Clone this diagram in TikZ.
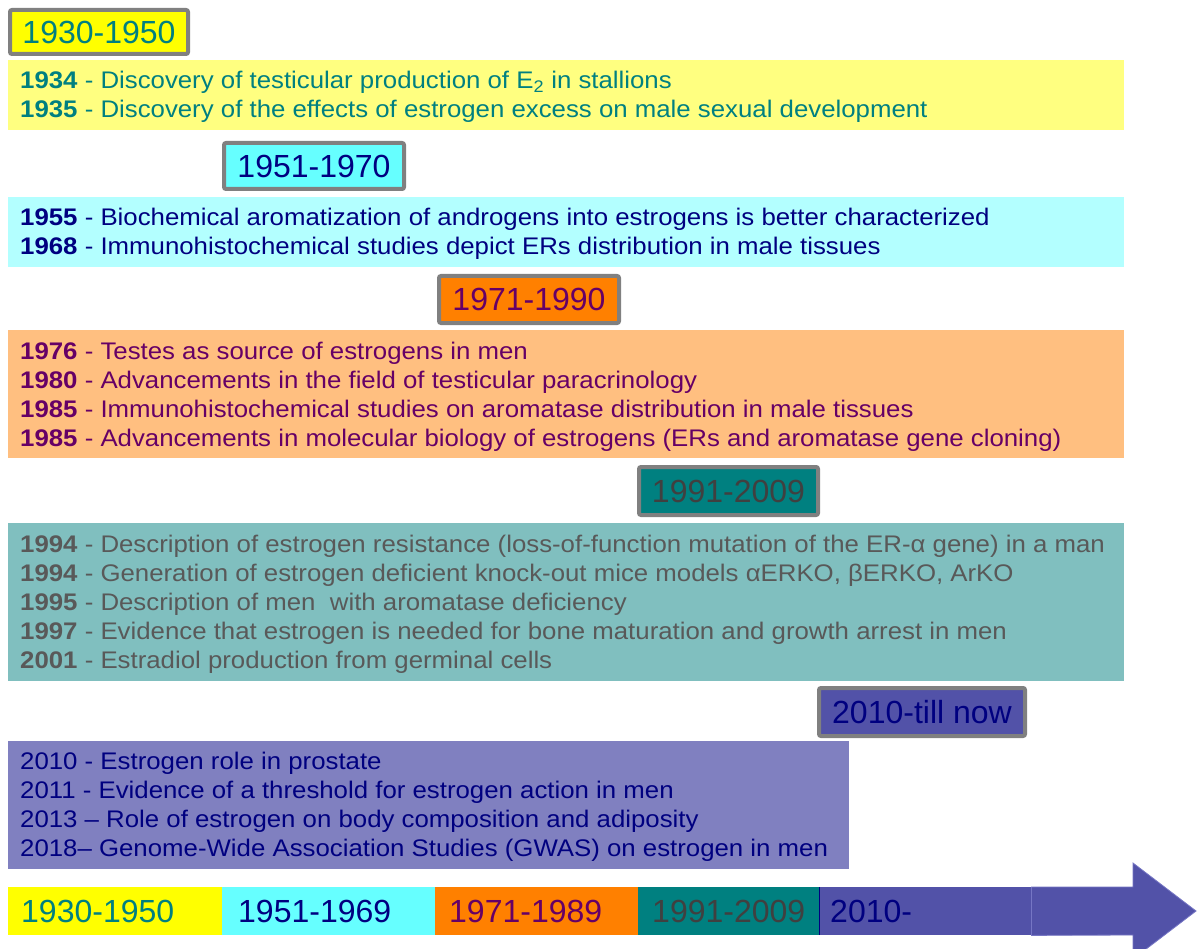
\documentclass[tikz,border=0pt]{standalone}
\usepackage{fontspec}
\setmainfont{Liberation Sans}
\newfontfamily\bandfont[FakeStretch=1.075]{Liberation Sans}
\definecolor{hdrgray}{HTML}{808080}
\definecolor{cA}{HTML}{FFFF00}
\definecolor{cB}{HTML}{66FFFF}
\definecolor{cC}{HTML}{FF8000}
\definecolor{cD}{HTML}{008080}
\definecolor{cE}{HTML}{5252A8}
\definecolor{bA}{HTML}{FFFF80}
\definecolor{bB}{HTML}{B3FFFF}
\definecolor{bC}{HTML}{FFBF80}
\definecolor{bD}{HTML}{80BFBF}
\definecolor{bE}{HTML}{8080C0}
\definecolor{tA}{HTML}{008080}
\definecolor{tB}{HTML}{000080}
\definecolor{tC}{HTML}{660066}
\definecolor{tD}{HTML}{595959}
\definecolor{tDh}{HTML}{404040}
\definecolor{arrowedge}{HTML}{7676C4}
\begin{document}
\begin{tikzpicture}[x=1pt,y=-1pt,
  hdr/.style={draw=hdrgray, line width=4pt, rounded corners=2pt, inner sep=0pt,
    font=\fontsize{32}{32}\selectfont},
  band/.style={inner sep=0pt, anchor=north west},
  line/.style={inner sep=0pt, anchor=base west, font=\bandfont\fontsize{24}{29}\selectfont},
  seg/.style={inner sep=0pt, anchor=north west, minimum height=48pt},
  segtext/.style={inner sep=0pt, anchor=base west, font=\fontsize{32}{32}\selectfont}]
\useasboundingbox (0,0) rectangle (1198,949);
\fill[white] (0,0) rectangle (1198,949);

% ---- 1930-1950
\node[hdr, fill=cA, text=tA, minimum width=178pt, minimum height=44pt] (h1) at (99,32) {1930-1950};
\node[band, fill=bA, minimum width=1116pt, minimum height=70pt] (b1) at (8,60) {};
\node[line, text=tA] (l11) at (20,89) {\textbf{1934} - Discovery of testicular production of E\textsubscript{2} in stallions};
\node[line, text=tA] (l12) at (20,118) {\textbf{1935} - Discovery of the effects of estrogen excess on male sexual development};

% ---- 1951-1970
\node[hdr, fill=cB, text=tB, minimum width=180pt, minimum height=46pt] (h2) at (314,166) {1951-1970};
\node[band, fill=bB, minimum width=1116pt, minimum height=70pt] (b2) at (8,197) {};
\node[line, text=tB] (l21) at (20,226) {\textbf{1955} - Biochemical aromatization of androgens into estrogens is better characterized};
\node[line, text=tB] (l22) at (20,255) {\textbf{1968} - Immunohistochemical studies depict ERs distribution in male tissues};

% ---- 1971-1990
\node[hdr, fill=cC, text=tC, minimum width=180pt, minimum height=47pt] (h3) at (529,299.5) {1971-1990};
\node[band, fill=bC, minimum width=1116pt, minimum height=128pt] (b3) at (8,330) {};
\node[line, text=tC] (l31) at (20,359) {\textbf{1976} - Testes as source of estrogens in men};
\node[line, text=tC] (l32) at (20,388) {\textbf{1980} - Advancements in the field of testicular paracrinology};
\node[line, text=tC] (l33) at (20,417) {\textbf{1985} - Immunohistochemical studies on aromatase distribution in male tissues};
\node[line, text=tC] (l34) at (20,446) {\textbf{1985} - Advancements in molecular biology of estrogens (ERs and aromatase gene cloning)};

% ---- 1991-2009
\node[hdr, fill=cD, text=tDh, minimum width=179pt, minimum height=48pt] (h4) at (728.5,491) {1991-2009};
\node[band, fill=bD, minimum width=1116pt, minimum height=158pt] (b4) at (8,523) {};
\node[line, text=tD] (l41) at (20,552) {\textbf{1994} - Description of estrogen resistance (loss-of-function mutation of the ER-α gene) in a man};
\node[line, text=tD] (l42) at (20,581) {\textbf{1994} - Generation of estrogen deficient knock-out mice models αERKO, βERKO, ArKO};
\node[line, text=tD] (l43) at (20,610) {\textbf{1995} - Description of men\ \ with aromatase deficiency};
\node[line, text=tD] (l44) at (20,639) {\textbf{1997} - Evidence that estrogen is needed for bone maturation and growth arrest in men};
\node[line, text=tD] (l45) at (20,668) {\textbf{2001} - Estradiol production from germinal cells};

% ---- 2010-till now
\node[hdr, fill=cE, text=tB, minimum width=206pt, minimum height=48pt] (h5) at (922,712) {2010-till now};
\node[band, fill=bE, minimum width=841pt, minimum height=128pt] (b5) at (8,741) {};
\node[line, text=tB] (l51) at (20,769) {2010 - Estrogen role in prostate};
\node[line, text=tB] (l52) at (20,798) {2011 - Evidence of a threshold for estrogen action in men};
\node[line, text=tB] (l53) at (20,827) {2013 – Role of estrogen on body composition and adiposity};
\node[line, text=tB] (l54) at (20,856) {2018– Genome-Wide Association Studies (GWAS) on estrogen in men};

% ---- bottom timeline
\node[seg, fill=cA, minimum width=214pt] (s1) at (8,887) {};
\node[seg, fill=cB, minimum width=213pt] (s2) at (222,887) {};
\node[seg, fill=cC, minimum width=203pt] (s3) at (435,887) {};
\node[seg, fill=cD, minimum width=181pt] (s4) at (638,887) {};
\node[seg, fill=cE, minimum width=212pt] (s5) at (819,887) {};
\draw[tB, line width=1pt] (s5.north west) -- (s5.south west);
\coordinate (tip) at (1196,911);
\filldraw[fill=cE, draw=arrowedge, line width=0.8pt]
  (s5.north east) -- (1133,887) -- (1133,863) -- (tip) -- (1133,959) -- (1133,935) -- (s5.south east) -- cycle;
\fill[cE] (1133.6,887.5) rectangle (1140,934.5);
\node[segtext, text=tA] (t1) at (21,922) {1930-1950};
\node[segtext, text=tB] (t2) at (238,922) {1951-1969};
\node[segtext, text=tC] (t3) at (449,922) {1971-1989};
\node[segtext, text=tDh] (t4) at (652,922) {1991-2009};
\node[segtext, text=tB] (t5) at (830,922) {2010-};
\end{tikzpicture}
\end{document}
